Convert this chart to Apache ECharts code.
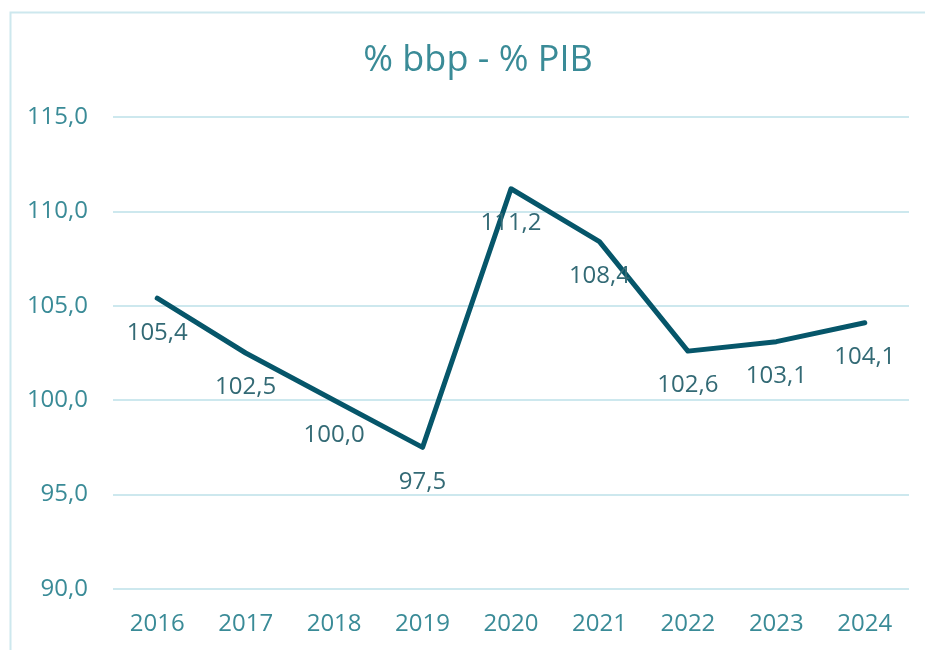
<!DOCTYPE html>
<html>
<head>
<meta charset="utf-8">
<script src="https://cdn.jsdelivr.net/npm/echarts@6/dist/echarts.min.js"></script>
<style>
html,body{margin:0;padding:0;background:#fff;}
#chart{width:925px;height:650px;}
</style>
</head>
<body>
<div id="chart"></div>
<script>
const titleText = '% bbp - % PIB';
const years = ['2016','2017','2018','2019','2020','2021','2022','2023','2024'];
const values = [105.4, 102.5, 100.0, 97.5, 111.2, 108.4, 102.6, 103.1, 104.1];
const yMin = 90, yMax = 115, yStep = 5;

const teal = '#3a8b97';
const fmt = v => Number(v).toFixed(1).replace('.', ',');

const chart = echarts.init(document.getElementById('chart'), null, {renderer:'canvas'});
chart.setOption({
  animation: false,
  backgroundColor: '#ffffff',
  textStyle: { fontFamily: '"Open Sans", "Noto Sans", sans-serif' },
  graphic: [{
    type: 'rect',
    shape: { x: 10.5, y: 12.5, width: 940, height: 660 },
    style: { fill: 'none', stroke: '#cde8ee', lineWidth: 2 },
    silent: true, z: -1
  }],
  title: {
    text: titleText,
    left: 473, top: 38,
    textAlign: 'center',
    textStyle: { color: teal, fontSize: 36, fontWeight: 'normal', fontFamily: '"Open Sans", sans-serif' }
  },
  grid: { left: 113, right: 16, top: 117, bottom: 61, containLabel: false },
  xAxis: {
    type: 'category',
    data: years,
    boundaryGap: true,
    axisLine: { show: false },
    axisTick: { show: false },
    axisLabel: { color: teal, fontSize: 24, margin: 23, fontFamily: '"Open Sans", sans-serif' }
  },
  yAxis: {
    type: 'value',
    min: yMin, max: yMax, interval: yStep,
    axisLine: { show: false },
    axisTick: { show: false },
    axisLabel: { color: teal, fontSize: 24, margin: 25, formatter: fmt, fontFamily: '"Open Sans", sans-serif' },
    splitLine: { lineStyle: { color: '#cde8ee', width: 2 } }
  },
  series: [{
    type: 'line',
    data: values,
    symbol: 'circle',
    symbolSize: 1,
    showSymbol: true,
    itemStyle: { color: 'rgba(0,0,0,0)' },
    lineStyle: { color: '#06566a', width: 5, join: 'round', cap: 'round' },
    labelLayout: { hideOverlap: false },
    label: {
      show: true,
      position: 'bottom',
      distance: 22,
      color: '#336a75',
      fontSize: 24,
      fontFamily: '"Open Sans", sans-serif',
      formatter: p => fmt(p.value)
    }
  }]
});
</script>
</body>
</html>
